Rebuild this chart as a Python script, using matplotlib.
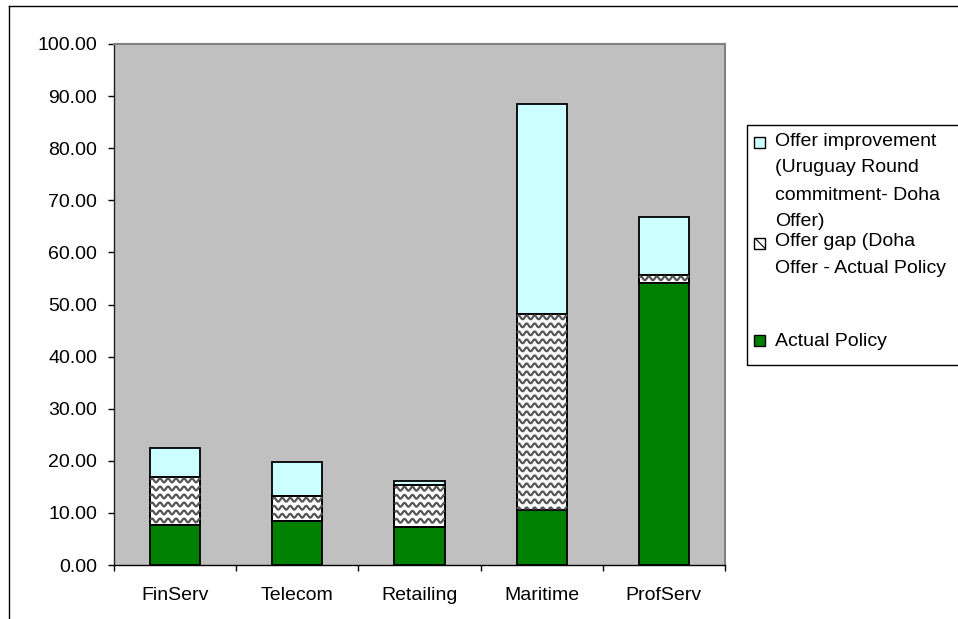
import numpy as np
import matplotlib
matplotlib.use("Agg")
import matplotlib.pyplot as plt
from matplotlib.patches import Rectangle
from matplotlib.lines import Line2D
from matplotlib.transforms import IdentityTransform

categories = ["FinServ", "Telecom", "Retailing", "Maritime", "ProfServ"]
actual_policy = [7.7, 8.4, 7.3, 10.6, 54.1]
offer_gap = [9.2, 4.8, 8.0, 37.6, 1.6]
offer_improvement = [5.5, 6.6, 0.9, 40.2, 11.0]
yticks = [0, 10, 20, 30, 40, 50, 60, 70, 80, 90, 100]
legend_lines_1 = ["Offer improvement", "(Uruguay Round", "commitment- Doha", "Offer)"]
legend_lines_2 = ["Offer gap (Doha", "Offer - Actual Policy"]
legend_lines_3 = ["Actual Policy"]

W, H = 958, 619
DPI = 100
plt.rcParams['font.family'] = ['Liberation Sans', 'DejaVu Sans']
plt.rcParams['hatch.color'] = '#404040'
plt.rcParams['hatch.linewidth'] = 0.8
FS = 14

fig = plt.figure(figsize=(W / DPI, H / DPI), dpi=DPI)
fig.patch.set_facecolor('white')

def fx(px):
    return px / W

def fy(py):
    return 1 - py / H

ax = fig.add_axes([fx(114), fy(565), (725 - 114) / W, (565 - 44) / H])
ax.set_facecolor('#C0C0C0')
ax.set_xlim(0, len(categories))
ax.set_ylim(0, 100)

x = np.arange(len(categories)) + 0.5
bw = 0.41
green = '#008000'
cyan = '#CCFFFF'
lw = 1.3

bottom2 = np.array(actual_policy)
bottom3 = bottom2 + np.array(offer_gap)

ax.bar(x, actual_policy, bw, color=green, edgecolor='black', linewidth=lw, zorder=2)
gap_bars = ax.bar(x, offer_gap, bw, bottom=bottom2, color='white', edgecolor='black',
                  linewidth=lw, zorder=2)
ax.bar(x, offer_improvement, bw, bottom=bottom3, color=cyan, edgecolor='black',
       linewidth=lw, zorder=2)

# wavy pattern in the gap segments (drawn in pixel space, limited to the bar)
period = 8.0
amp = 1.9
for rect in gap_bars:
    bb = rect.get_window_extent()
    x0, x1 = bb.x0, bb.x1
    y0, y1 = bb.y0, bb.y1
    xs = np.arange(x0 + 1, x1 - 0.5, 0.5)
    yrow = y1 - 3.5
    while yrow > y0 - period:
        ys = yrow + amp * np.sin(2 * np.pi * (xs - x0) / period)
        ys = np.where((ys > y0 + 1.0) & (ys < y1 - 1.0), ys, np.nan)
        ln = Line2D(xs, ys, transform=IdentityTransform(), color='#555555',
                    linewidth=1.6, zorder=2.5)
        fig.add_artist(ln)
        yrow -= period
    edge = Rectangle(rect.get_xy(), rect.get_width(), rect.get_height(),
                     fill=False, edgecolor='black', linewidth=lw, zorder=3)
    ax.add_patch(edge)

# axes styling
for s in ['top', 'right']:
    ax.spines[s].set_color('#808080')
    ax.spines[s].set_linewidth(1.5)
ax.spines['left'].set_color('#202020')
ax.spines['bottom'].set_color('black')
ax.spines['left'].set_linewidth(1.0)
ax.spines['bottom'].set_linewidth(1.0)

ax.set_yticks(yticks)
ax.set_yticklabels([f"{v:.2f}" for v in yticks], fontsize=FS)
ax.tick_params(axis='y', direction='out', length=4, width=1, pad=8)

ax.set_xticks(x)
ax.set_xticklabels(categories, fontsize=FS)
ax.tick_params(axis='x', which='major', length=0, pad=16)
ax.set_xticks(np.arange(len(categories) + 1), minor=True)
ax.tick_params(axis='x', which='minor', direction='out', length=4, width=1)

# figure border (extends beyond right and bottom edges)
fig.add_artist(Line2D([fx(8.5), fx(8.5)], [fy(6.0), fy(H + 5)], color='black',
                      linewidth=1.0, transform=fig.transFigure))
fig.add_artist(Line2D([fx(8.5), fx(W + 5)], [fy(6.0), fy(6.0)], color='black',
                      linewidth=1.0, transform=fig.transFigure))

# legend (manual, Excel-like)
fig.add_artist(Rectangle((fx(746.5), fy(365)), fx(400), (365 - 125) / H, fill=False,
                         edgecolor='black', linewidth=1.0, transform=fig.transFigure))

def marker(cy, face, hatch=None):
    s = 11
    r = Rectangle((fx(754), fy(cy + s / 2)), s / W, s / H, facecolor=face,
                  edgecolor='black', linewidth=1.0, transform=fig.transFigure,
                  hatch=hatch)
    fig.add_artist(r)

marker(143, cyan)
marker(244, 'white', hatch='\\\\')
marker(340.5, green)

baselines1 = [146.5, 172.5, 199.5, 226.0]
baselines2 = [246.5, 273.0]
baselines3 = [345.5]
for t, b in zip(legend_lines_1, baselines1):
    fig.text(fx(775), fy(b), t, fontsize=FS, va='baseline', ha='left')
for t, b in zip(legend_lines_2, baselines2):
    fig.text(fx(775), fy(b), t, fontsize=FS, va='baseline', ha='left')
for t, b in zip(legend_lines_3, baselines3):
    fig.text(fx(775), fy(b), t, fontsize=FS, va='baseline', ha='left')

fig.savefig("out.png", dpi=DPI)
